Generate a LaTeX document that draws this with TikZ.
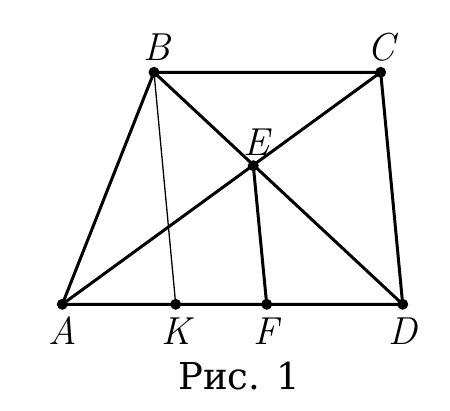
\documentclass[tikz,border=0pt]{standalone}
\usepackage{fontspec}
\newfontfamily\capfont{DejaVu Serif}
\tikzset{
  pt/.style={circle,fill=black,inner sep=0pt,minimum size=11pt},
  lbl/.style={inner sep=0pt,font=\fontsize{39}{44}\selectfont\itshape},
  thickline/.style={line width=3pt,line join=round},
  thinline/.style={line width=1.3pt}
}
\begin{document}
\begin{tikzpicture}[x=1pt,y=-1pt]
\useasboundingbox (0,0) rectangle (450,410);
\node[pt] (A) at (62.3,304.3) {};
\node[pt] (B) at (154,72.3) {};
\node[pt] (C) at (380.7,72.3) {};
\node[pt] (D) at (402.7,304.3) {};
\node[pt] (E) at (253.3,165.7) {};
\node[pt] (K) at (175.7,304.3) {};
\node[pt] (F) at (266.7,304.3) {};
\draw[thinline] (B.center) -- (K.center);
\draw[thickline] (A.center) -- (B.center) -- (C.center) -- (D.center) -- cycle;
\draw[thickline] (A.center) -- (C.center);
\draw[thickline] (B.center) -- (D.center);
\draw[thickline] (E.center) -- (F.center);
\node[lbl] (lA) at (63,331) {A};
\node[lbl] (lB) at (157,47) {B};
\node[lbl] (lC) at (381,47) {C};
\node[lbl] (lD) at (403,331) {D};
\node[lbl] (lE) at (256,142) {E};
\node[lbl] (lK) at (176,331) {K};
\node[lbl] (lF) at (266,331) {F};
\node[inner sep=0pt,font=\capfont\fontsize{37}{42}\selectfont] (cap) at (239,376) {Рис. 1};
\end{tikzpicture}
\end{document}
